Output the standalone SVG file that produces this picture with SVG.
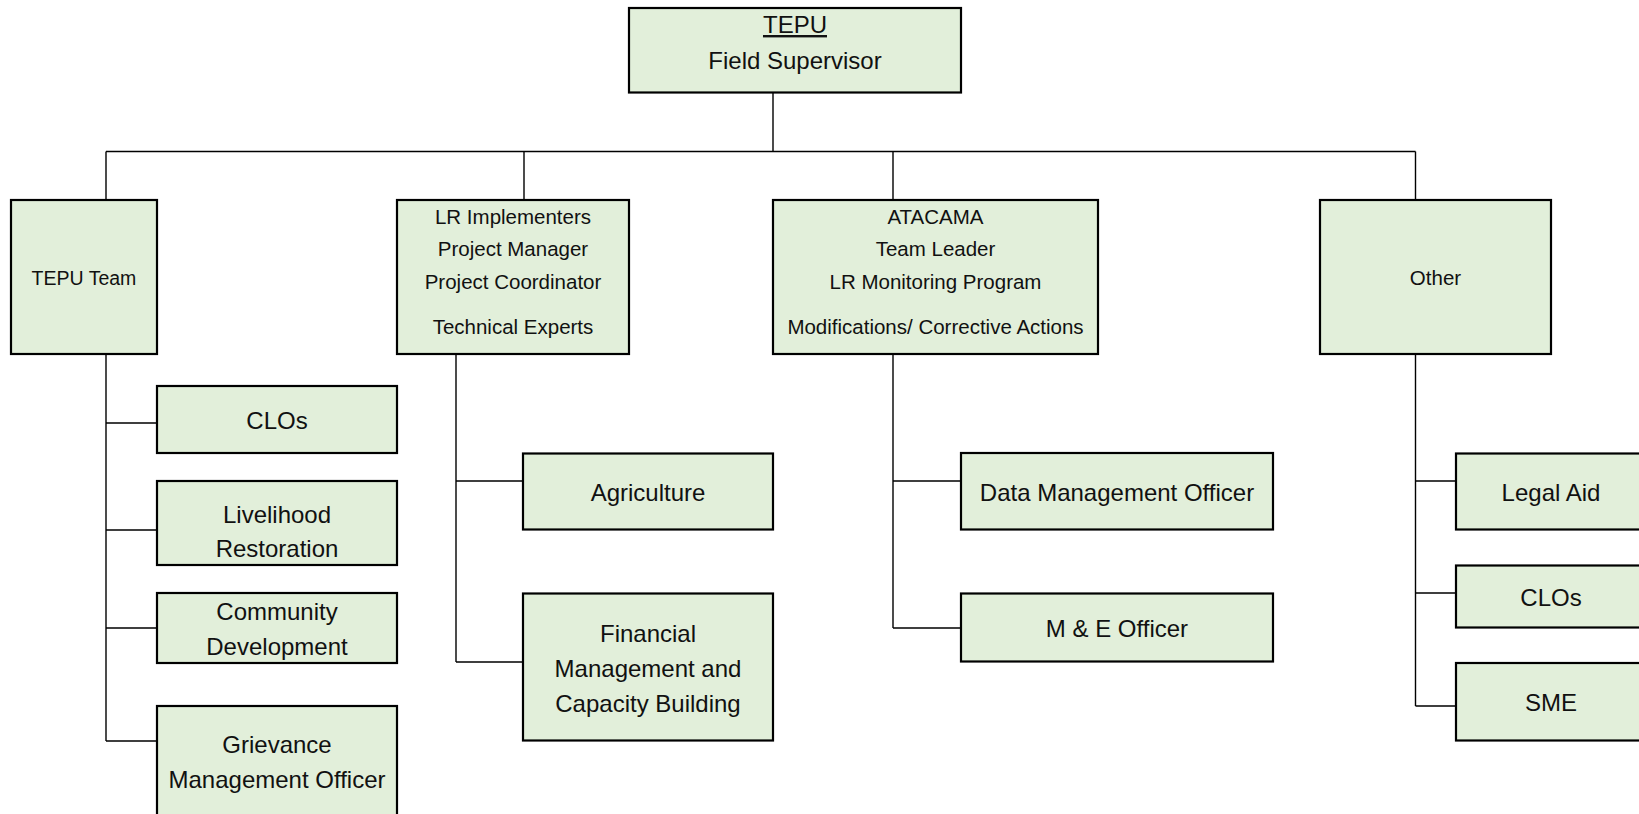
<svg xmlns="http://www.w3.org/2000/svg" width="1639" height="814" viewBox="0 0 1639 814">
  <style>
    .box { fill: #E2EFDA; stroke: #000; stroke-width: 2.2; }
    .lnk { fill: none; stroke: #000; stroke-width: 1.4; }
    text { font-family: "Liberation Sans", Arial, sans-serif; fill: #111; text-anchor: middle; }
    .lg { font-size: 24px; }
    .sm { font-size: 20.5px; }
  </style>
  <rect width="1639" height="814" fill="#fff"/>

  <!-- connectors -->
  <g id="connectors" class="lnk">
    <path d="M773 92 V151.5 M106 151.5 H1415.5 M106 151.5 V200 M524 151.5 V200 M893 151.5 V200 M1415.5 151.5 V200"/>
    <path d="M106 354 V741 M106 423 H157 M106 530 H157 M106 628 H157 M106 741 H157"/>
    <path d="M456 354 V662 M456 481 H523 M456 662 H523"/>
    <path d="M893 354 V628 M893 481 H961 M893 628 H961"/>
    <path d="M1415.5 354 V706 M1415.5 481 H1456 M1415.5 593 H1456 M1415.5 706 H1456"/>
  </g>

  <g id="field-supervisor">
    <rect class="box" x="629" y="8" width="332" height="84.5"/>
    <text class="lg" x="795" y="33" text-decoration="underline">TEPU</text>
    <text class="lg" x="795" y="69">Field Supervisor</text>
  </g>

  <g id="tepu-team">
    <rect class="box" x="11" y="200" width="146" height="154"/>
    <text class="sm" x="84" y="285" style="font-size:19.5px">TEPU Team</text>
  </g>

  <g id="lr-implementers">
    <rect class="box" x="397" y="200" width="232" height="154"/>
    <text class="sm" x="513" y="224">LR Implementers</text>
    <text class="sm" x="513" y="256">Project Manager</text>
    <text class="sm" x="513" y="289">Project Coordinator</text>
    <text class="sm" x="513" y="334">Technical Experts</text>
  </g>

  <g id="atacama">
    <rect class="box" x="773" y="200" width="325" height="154"/>
    <text class="sm" x="935.5" y="224">ATACAMA</text>
    <text class="sm" x="935.5" y="256">Team Leader</text>
    <text class="sm" x="935.5" y="289">LR Monitoring Program</text>
    <text class="sm" x="935.5" y="334">Modifications/ Corrective Actions</text>
  </g>

  <g id="other">
    <rect class="box" x="1320" y="200" width="231" height="154"/>
    <text class="sm" x="1435.5" y="285">Other</text>
  </g>

  <!-- TEPU Team members -->
  <g id="clos-tepu">
    <rect class="box" x="157" y="386" width="240" height="67"/>
    <text class="lg" x="277" y="429">CLOs</text>
  </g>
  <g id="livelihood-restoration">
    <rect class="box" x="157" y="481" width="240" height="84"/>
    <text class="lg" x="277" y="523">Livelihood</text>
    <text class="lg" x="277" y="557">Restoration</text>
  </g>
  <g id="community-development">
    <rect class="box" x="157" y="593" width="240" height="70"/>
    <text class="lg" x="277" y="620">Community</text>
    <text class="lg" x="277" y="655">Development</text>
  </g>
  <g id="grievance-officer">
    <rect class="box" x="157" y="706" width="240" height="130"/>
    <text class="lg" x="277" y="753">Grievance</text>
    <text class="lg" x="277" y="788">Management Officer</text>
  </g>

  <!-- LR Implementers members -->
  <g id="agriculture">
    <rect class="box" x="523" y="453.5" width="250" height="76"/>
    <text class="lg" x="648" y="501">Agriculture</text>
  </g>
  <g id="financial-management">
    <rect class="box" x="523" y="593.5" width="250" height="147"/>
    <text class="lg" x="648" y="642">Financial</text>
    <text class="lg" x="648" y="677">Management and</text>
    <text class="lg" x="648" y="712">Capacity Building</text>
  </g>

  <!-- ATACAMA members -->
  <g id="data-management-officer">
    <rect class="box" x="961" y="453" width="312" height="76.5"/>
    <text class="lg" x="1117" y="501">Data Management Officer</text>
  </g>
  <g id="me-officer">
    <rect class="box" x="961" y="593.5" width="312" height="68"/>
    <text class="lg" x="1117" y="637">M &amp; E Officer</text>
  </g>

  <!-- Other members -->
  <g id="legal-aid">
    <rect class="box" x="1456" y="453.5" width="200" height="76"/>
    <text class="lg" x="1551" y="501">Legal Aid</text>
  </g>
  <g id="clos-other">
    <rect class="box" x="1456" y="565.5" width="200" height="62"/>
    <text class="lg" x="1551" y="606">CLOs</text>
  </g>
  <g id="sme">
    <rect class="box" x="1456" y="663" width="200" height="77.5"/>
    <text class="lg" x="1551" y="711">SME</text>
  </g>
</svg>
